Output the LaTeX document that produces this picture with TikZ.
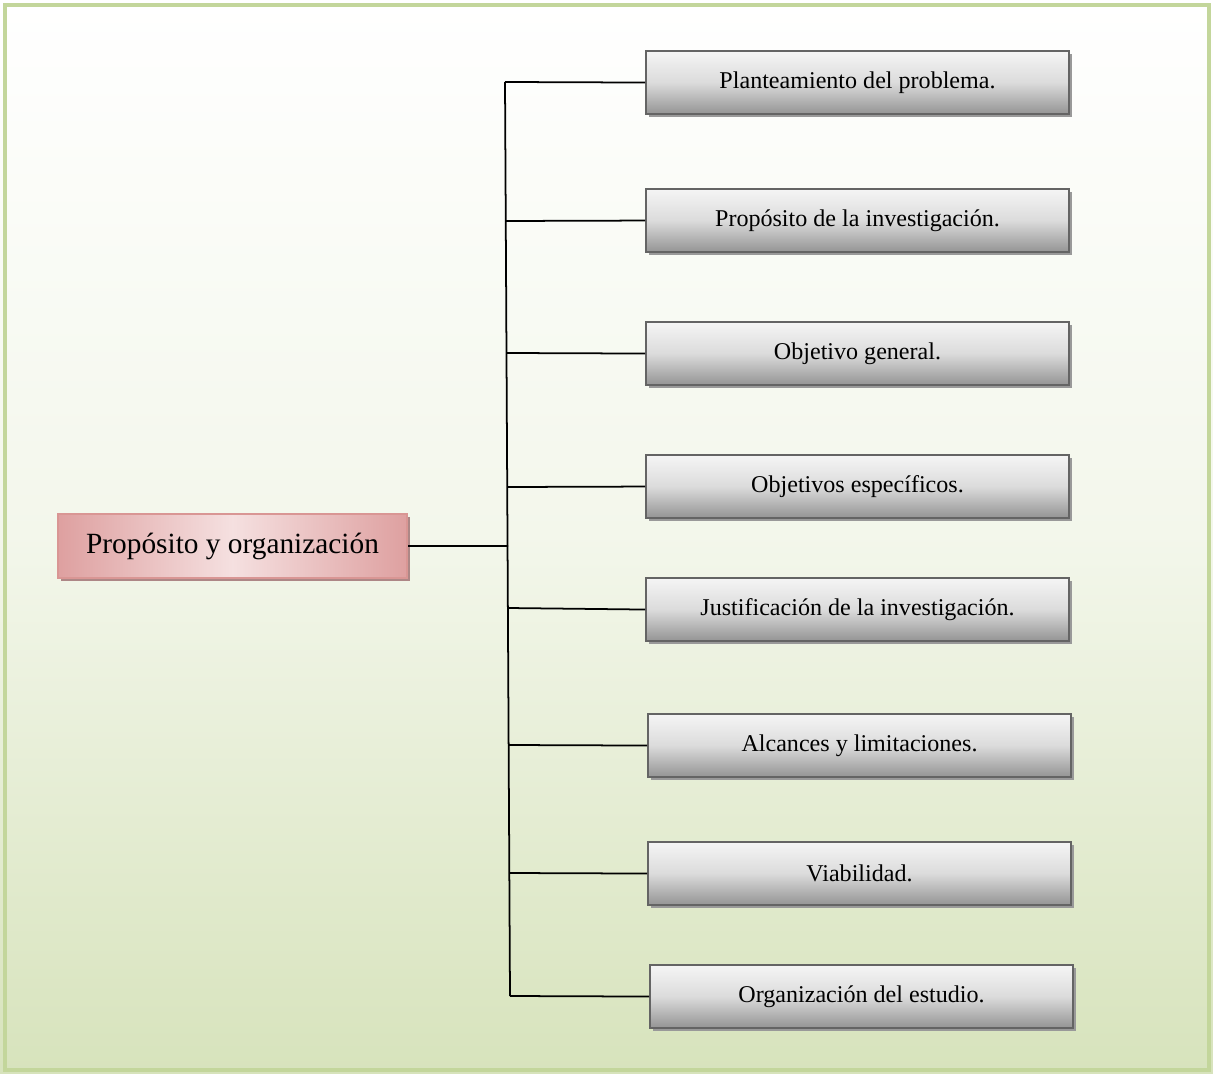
\documentclass[tikz,border=0pt]{standalone}
\usepackage{fontspec}
\setmainfont{Liberation Serif}
\usetikzlibrary{shadows}
\definecolor{framegreen}{RGB}{195,214,155}
\definecolor{bgbottom}{RGB}{215,227,188}
\definecolor{pinkedge}{RGB}{217,150,148}
\definecolor{pinkdark}{RGB}{222,160,160}
\definecolor{pinklight}{RGB}{245,224,224}
\definecolor{boxedge}{RGB}{100,100,100}
\tikzset{
  px/.style={x=0.02cm,y=-0.02cm},
  itembox/.style={draw=boxedge, line width=1.2pt, minimum width=8.46cm, minimum height=1.26cm,
    inner sep=0pt, anchor=north west, top color=white!96!black, bottom color=black!42,
    middle color=white!86!black,
    drop shadow={shadow xshift=0.06cm, shadow yshift=-0.06cm, fill=black!40, opacity=1},
    font=\fontsize{13.7}{16}\selectfont},
  rootbox/.style={draw=pinkedge, line width=1.2pt, minimum width=6.98cm, minimum height=1.28cm,
    inner sep=0pt, anchor=north west, left color=pinkdark, right color=pinkdark, middle color=pinklight,
    drop shadow={shadow xshift=0.06cm, shadow yshift=-0.06cm, fill=pinkedge!70!black!80, opacity=1},
    font=\fontsize{16.7}{20}\selectfont},
  link/.style={line width=1pt, black}
}
\begin{document}
\begin{tikzpicture}[px]
  % page background and frame
  \shade[top color=white, bottom color=bgbottom, middle color=bgbottom!30] (0,0) rectangle (1213,1074);
  \draw[framegreen, line width=2.2pt] (5,5) rectangle (1209,1070);
  \useasboundingbox (0,0) rectangle (1213,1074);

  % root
  \node[rootbox] (root) at (57,513) {Propósito y organización};

  % children
  \node[itembox] (c1) at (645,50)  {Planteamiento del problema.};
  \node[itembox] (c2) at (645,188) {Propósito de la investigación.};
  \node[itembox] (c3) at (645,321) {Objetivo general.};
  \node[itembox] (c4) at (645,454) {Objetivos específicos.};
  \node[itembox] (c5) at (645,577) {Justificación de la investigación.};
  \node[itembox] (c6) at (647,713) {Alcances y limitaciones.};
  \node[itembox] (c7) at (647,841) {Viabilidad.};
  \node[itembox] (c8) at (649,964) {Organización del estudio.};

  % trunk
  \coordinate (t1) at (505,82);
  \coordinate (t2) at (506,221);
  \coordinate (t3) at (507,353);
  \coordinate (t4) at (508,487);
  \coordinate (t0) at (508,546);
  \coordinate (t5) at (508,608);
  \coordinate (t6) at (509,745);
  \coordinate (t7) at (510,873);
  \coordinate (t8) at (510,996);
  \draw[link] (t1) -- (t8);

  \draw[link] (root.east) -- (t0);
  \draw[link] (t1) -- (c1.west);
  \draw[link] (t2) -- (c2.west);
  \draw[link] (t3) -- (c3.west);
  \draw[link] (t4) -- (c4.west);
  \draw[link] (t5) -- (c5.west);
  \draw[link] (t6) -- (c6.west);
  \draw[link] (t7) -- (c7.west);
  \draw[link] (t8) -- (c8.west);
\end{tikzpicture}
\end{document}
